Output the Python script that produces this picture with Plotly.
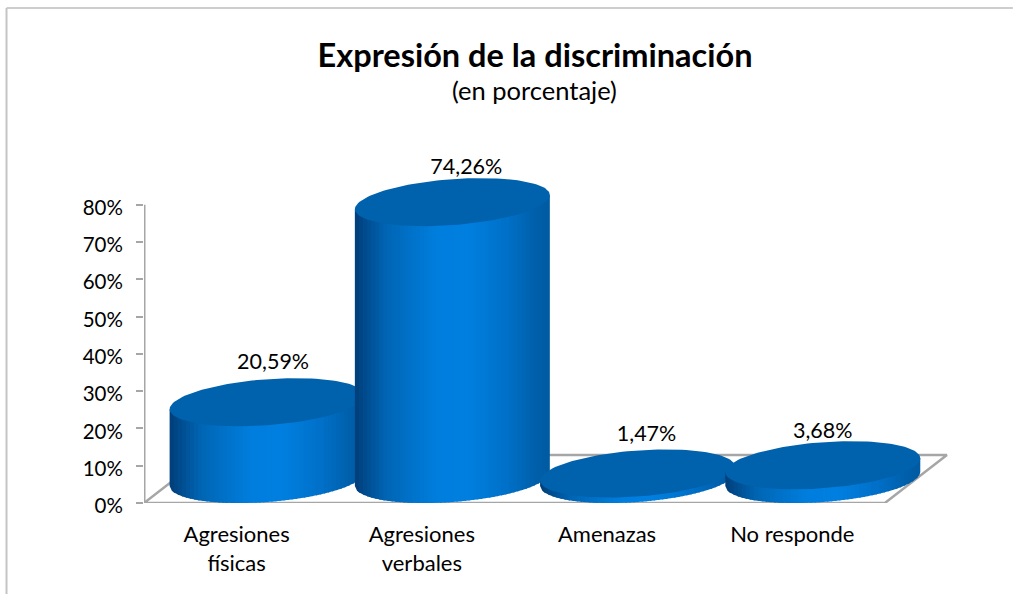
import numpy as np
import plotly.graph_objects as go

# ---- chart data ----
categories = ["Agresiones<br>físicas", "Agresiones<br>verbales", "Amenazas", "No responde"]
values = [20.59, 74.26, 1.47, 3.68]
value_labels = ["20,59%", "74,26%", "1,47%", "3,68%"]
tick_values = [0, 10, 20, 30, 40, 50, 60, 70, 80]
tick_labels = ["0%", "10%", "20%", "30%", "40%", "50%", "60%", "70%", "80%"]

# ---- geometry (pixels on screen per axis unit) ----
W, H = 1013, 594
L, B = 144, 503
PX_X = 741 / 4.0
PX_Y = 298 / 80.0
X_MAX, Y_MAX = 3.9, 92
R = L + (X_MAX + 0.5) * PX_X
T = B - Y_MAX * PX_Y
DEPTH_X = 62 / PX_X            # floor depth, in axis units
DEPTH_Y = 48 / PX_Y
SEMI_A = 97.5 / PX_X           # cylinder half width
SEMI_B = 23 / PX_Y             # ellipse half height
SHEAR = 7 / PX_Y               # tilt of the ellipse
FONT = "Lato"
TXT = 21.5
GREY = "#a6a6a6"

label_dx = [6 / PX_X, 14 / PX_X, 9 / PX_X, 0]
label_dy = [62.3 / PX_Y, 57.4 / PX_Y, 61.5 / PX_Y, 56.3 / PX_Y]

stops = [(0.0, (0, 62, 120)), (0.05, (0, 74, 140)), (0.16, (0, 101, 180)), (0.42, (0, 126, 222)),
         (0.58, (0, 127, 224)), (0.78, (0, 112, 200)), (0.92, (0, 96, 172)), (1.0, (0, 90, 160))]


def shade(f):
    xs = [s[0] for s in stops]
    rgb = [int(round(np.interp(f, xs, [s[1][i] for s in stops]))) for i in range(3)]
    return f"rgb({rgb[0]},{rgb[1]},{rgb[2]})"


fig = go.Figure()


def add_area(xs, ys, color):
    fig.add_trace(go.Scatter(x=xs, y=ys, mode="lines", fill="toself", fillcolor=color,
                             line=dict(color=color, width=0), hoverinfo="skip",
                             showlegend=False, cliponaxis=False))


# value axis line and floor outline
fig.add_trace(go.Scatter(x=[-0.5, -0.5], y=[0, 80], mode="lines", line=dict(color=GREY, width=3),
                         hoverinfo="skip", showlegend=False, cliponaxis=False))
fx = [-0.5, 3.5, 3.5 + DEPTH_X, -0.5 + DEPTH_X, -0.5]
fy = [0, 0, DEPTH_Y, DEPTH_Y, 0]
fig.add_trace(go.Scatter(x=fx, y=fy, mode="lines", line=dict(color=GREY, width=2.5),
                         hoverinfo="skip", showlegend=False, cliponaxis=False))

# cylinders
N = 48
base_c = DEPTH_Y / 2.0
step = 2.0 / N
overlap = 1.5 / PX_X / SEMI_A
for i, v in enumerate(values):
    cx = i + 61 / PX_X / 2.0
    top_c = base_c + v
    for k in range(N):
        u = np.linspace(-1 + k * step, min(1.0, -1 + (k + 1) * step + overlap), 6)
        low = base_c + SHEAR * u - SEMI_B * np.sqrt(np.clip(1 - u ** 2, 0, 1))
        up = top_c + SHEAR * u
        xs = cx + SEMI_A * u
        add_area(np.r_[xs, xs[::-1]], np.r_[low, up[::-1]], shade((k + 0.5) / N))
    t = np.linspace(0, 2 * np.pi, 121)
    add_area(cx + SEMI_A * np.cos(t), top_c + SHEAR * np.cos(t) + SEMI_B * np.sin(t), "#0061ad")

# value labels
fig.add_trace(go.Scatter(
    x=[i + 61 / PX_X / 2.0 + label_dx[i] for i in range(4)],
    y=[values[i] + label_dy[i] for i in range(4)],
    text=value_labels, mode="text", textposition="middle center",
    textfont=dict(family=FONT, size=TXT, color="black"),
    hoverinfo="skip", showlegend=False, cliponaxis=False))

fig.update_layout(
    width=W, height=H, autosize=False,
    margin=dict(l=L, r=W - R, t=T, b=H - B),
    paper_bgcolor="white", plot_bgcolor="white", showlegend=False,
    font=dict(family=FONT, size=TXT, color="black"),
    title=dict(text="<b>Expresión de la discriminación</b>", x=535 / W, xanchor="center", xref="container",
               y=1 - 56 / H, yref="container", yanchor="middle",
               font=dict(family=FONT, size=32.5, color="black")),
    annotations=[dict(text="(en porcentaje)", xref="paper", yref="paper",
                      x=(535 - L) / (R - L), y=(B - 90) / (B - T), xanchor="center", yanchor="middle",
                      showarrow=False, font=dict(family=FONT, size=25.5, color="black"))],
    xaxis=dict(range=[-0.5, X_MAX], tickmode="array", tickvals=list(range(4)), ticktext=categories,
               showgrid=False, zeroline=False, showline=False,
               ticks="", ticklabelstandoff=16, tickfont=dict(family=FONT, size=22, color="black")),
    yaxis=dict(range=[0, Y_MAX], tickmode="array", tickvals=tick_values, ticktext=tick_labels,
               showgrid=False, zeroline=False, showline=False,
               ticks="outside", ticklen=7, tickcolor=GREY, tickwidth=1.5, ticklabelstandoff=9,
               ticklabelshift=3, tickfont=dict(family=FONT, size=20.5, color="black")),
    shapes=[
        dict(type="line", xref="paper", yref="paper", x0=(6.5 - L) / (R - L), x1=(W - L) / (R - L),
             y0=(B - 8.5) / (B - T), y1=(B - 8.5) / (B - T), line=dict(color="#bdbdbd", width=1.5)),
        dict(type="line", xref="paper", yref="paper", x0=(6.5 - L) / (R - L), x1=(6.5 - L) / (R - L),
             y0=(B - 8.5) / (B - T), y1=(B - H) / (B - T), line=dict(color="#c4c4c4", width=2)),
    ],
)

fig.write_html("out.html", config=dict(displayModeBar=False),
               post_script="document.body.style.margin='0';document.body.style.overflow='hidden';")
